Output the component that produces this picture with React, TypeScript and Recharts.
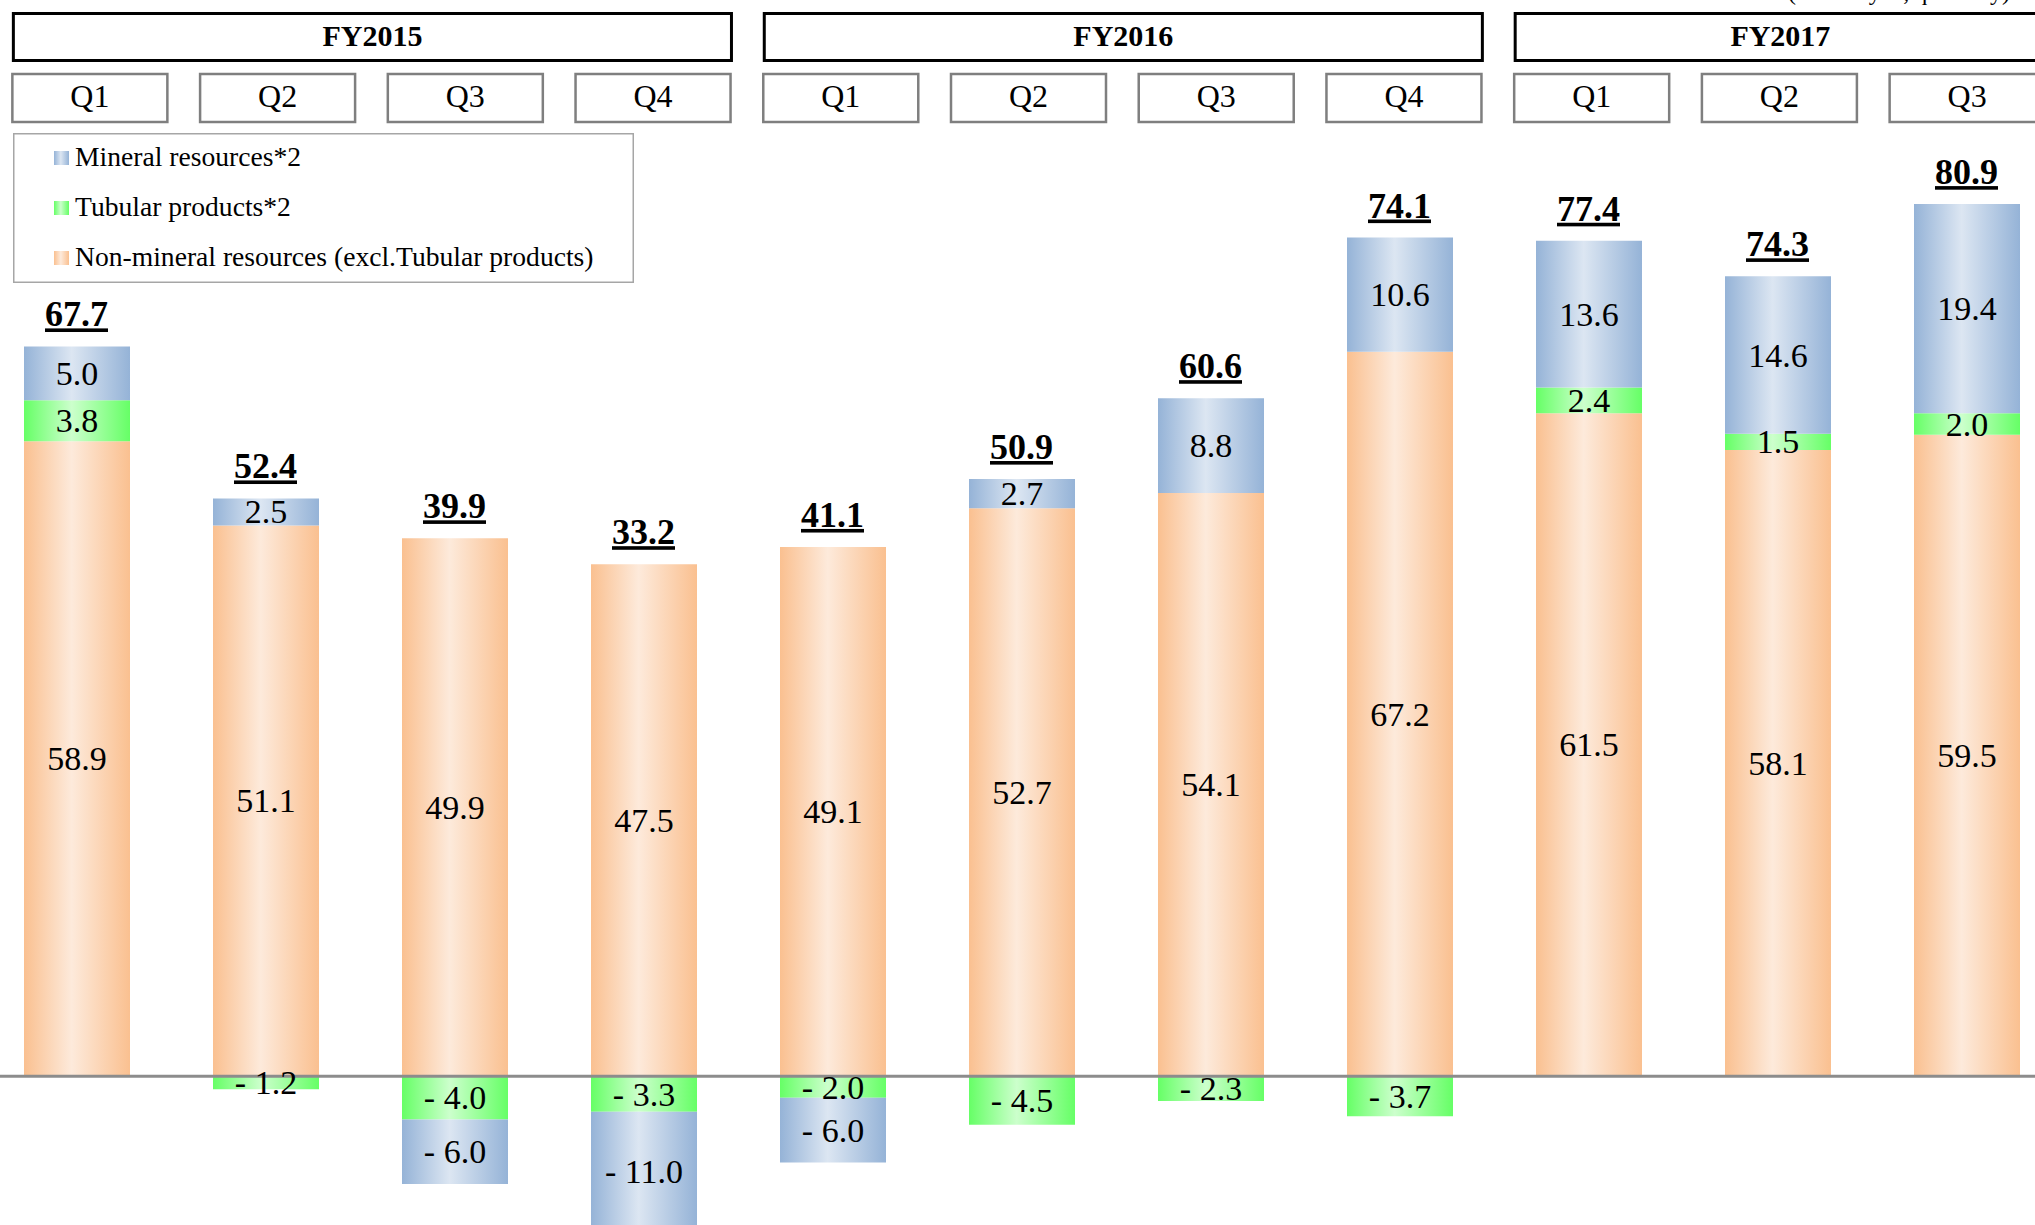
import { Bar, ComposedChart, LabelList, Legend, Line, ReferenceLine, XAxis, YAxis } from "recharts";

// quarterly figures
const quarters = ["Q1", "Q2", "Q3", "Q4", "Q1", "Q2", "Q3", "Q4", "Q1", "Q2", "Q3"];
const fiscalYears = ["FY2015", "FY2016", "FY2017"];
const nonMineral = [58.9, 51.1, 49.9, 47.5, 49.1, 52.7, 54.1, 67.2, 61.5, 58.1, 59.5];
const tubular = [3.8, -1.2, -4.0, -3.3, -2.0, -4.5, -2.3, -3.7, 2.4, 1.5, 2.0];
const mineral = [5.0, 2.5, -6.0, -11.0, -6.0, 2.7, 8.8, 10.6, 13.6, 14.6, 19.4];
const totals = [67.7, 52.4, 39.9, 33.2, 41.1, 50.9, 60.6, 74.1, 77.4, 74.3, 80.9];

const legendItems = [
  { label: "Mineral resources*2", fill: "url(#gradBlue)" },
  { label: "Tubular products*2", fill: "url(#gradGreen)" },
  { label: "Non-mineral resources (excl.Tubular products)", fill: "url(#gradOrange)" },
];

const data = quarters.map((q, i) => ({
  quarter: q,
  nonMineral: nonMineral[i],
  tubular: tubular[i],
  mineral: mineral[i],
  total: totals[i],
  // top of the positive stack, used to place the total label
  posTop: [nonMineral[i], tubular[i], mineral[i]].filter((v) => v > 0).reduce((a, b) => a + b, 0),
}));

const FONT = '"Liberation Serif", "Times New Roman", serif';
const STEP = 187.7; // spacing of the header boxes

const fmt = (v: number) => (v < 0 ? `- ${Math.abs(v).toFixed(1)}` : v.toFixed(1));

function SegmentLabel(props: any) {
  const { x, y, width, height, value } = props;
  if (value == null || value === 0) return null;
  const cx = Number(x) + Number(width) / 2;
  const cy = Number(y) + Number(height) / 2;
  return (
    <text x={cx} y={cy} dy={11.5} textAnchor="middle" fontSize={34} fill="#000" fontFamily={FONT}>
      {fmt(Number(value))}
    </text>
  );
}

function TotalLabel(props: any) {
  const { x, y, value } = props;
  return (
    <text
      x={x}
      y={Number(y) - 20}
      textAnchor="middle"
      fontSize={36}
      fontWeight="bold"
      fill="#000"
      fontFamily={FONT}
      textDecoration="underline"
    >
      {Number(value).toFixed(1)}
    </text>
  );
}

function HeaderTick(props: any) {
  const { x, payload } = props;
  const i = payload.index;
  const fy = Math.floor(i / 4);
  const count = Math.min(4, quarters.length - fy * 4);
  const fyWidth = (count - 1) * STEP + 155;
  return (
    <g>
      {i % 4 === 0 && (
        <g>
          <rect x={x - 76.5} y={13.5} width={fyWidth} height={47} fill="#fff" stroke="#000" strokeWidth={3} />
          <text
            x={x - 76.5 + fyWidth / 2}
            y={46}
            textAnchor="middle"
            fontSize={30}
            fontWeight="bold"
            fill="#000"
            fontFamily={FONT}
          >
            {fiscalYears[fy]}
          </text>
        </g>
      )}
      <rect x={x - 77.5} y={74} width={155} height={48} fill="#fff" stroke="#7f7f7f" strokeWidth={2.5} />
      <text x={x} y={107} textAnchor="middle" fontSize={32} fill="#000" fontFamily={FONT}>
        {payload.value}
      </text>
    </g>
  );
}

function LegendBox() {
  return (
    <svg width={621} height={150} style={{ display: "block" }}>
      <rect x={0.75} y={0.75} width={619.5} height={148.5} fill="#fff" stroke="#a6a6a6" strokeWidth={1.5} />
      {legendItems.map((item, i) => (
        <g key={item.label}>
          <rect x={41} y={18 + i * 50} width={15} height={14} fill={item.fill} />
          <text x={62} y={33 + i * 50} fontSize={27.6} fill="#000" fontFamily={FONT}>
            {item.label}
          </text>
        </g>
      ))}
    </svg>
  );
}

function Grad({ id, edge, mid }: { id: string; edge: string; mid: string }) {
  return (
    <linearGradient id={id} x1="0" y1="0" x2="1" y2="0">
      <stop offset="0%" stopColor={edge} />
      <stop offset="45%" stopColor={mid} />
      <stop offset="100%" stopColor={edge} />
    </linearGradient>
  );
}

export default function App() {
  return (
    <div
      style={{
        position: "fixed",
        left: 0,
        top: 0,
        width: 2035,
        height: 1225,
        overflow: "hidden",
        background: "#fff",
        fontFamily: FONT,
      }}
    >
      <div style={{ position: "absolute", left: -18, top: 0 }}>
        <ComposedChart
          width={2079}
          height={1238}
          data={data}
          stackOffset="sign"
          margin={{ top: 0, right: 0, bottom: 0, left: 0 }}
        >
          <defs>
            <Grad id="gradOrange" edge="#fac090" mid="#fdeadb" />
            <Grad id="gradGreen" edge="#66ff66" mid="#ccffcc" />
            <Grad id="gradBlue" edge="#95b3d7" mid="#dce6f2" />
          </defs>

          <XAxis xAxisId="main" dataKey="quarter" hide />
          <XAxis
            xAxisId="top"
            dataKey="quarter"
            orientation="top"
            height={106}
            padding={{ left: 14, right: 0 }}
            axisLine={false}
            tickLine={false}
            tickSize={0}
            tickMargin={0}
            interval={0}
            tick={(p: any) => <HeaderTick {...p} />}
          />
          <YAxis hide domain={[-15, 90]} allowDataOverflow />

          <Legend
            layout="vertical"
            verticalAlign="middle"
            align="center"
            wrapperStyle={{ left: 31, top: 133, width: 621, height: 150 }}
            content={() => <LegendBox />}
          />

          <Bar xAxisId="main" dataKey="nonMineral" stackId="a" barSize={106} fill="url(#gradOrange)" isAnimationActive={false}>
            <LabelList dataKey="nonMineral" content={SegmentLabel} />
          </Bar>
          <Bar xAxisId="main" dataKey="tubular" stackId="a" barSize={106} fill="url(#gradGreen)" isAnimationActive={false}>
            <LabelList dataKey="tubular" content={SegmentLabel} />
          </Bar>
          <Bar xAxisId="main" dataKey="mineral" stackId="a" barSize={106} fill="url(#gradBlue)" isAnimationActive={false}>
            <LabelList dataKey="mineral" content={SegmentLabel} />
          </Bar>

          <ReferenceLine xAxisId="main" y={0} stroke="#8c8c8c" strokeWidth={3} />

          <Line
            xAxisId="main"
            dataKey="posTop"
            stroke="none"
            dot={false}
            activeDot={false}
            legendType="none"
            isAnimationActive={false}
          >
            <LabelList dataKey="total" content={TotalLabel} />
          </Line>
        </ComposedChart>
      </div>
      <svg style={{ position: "absolute", left: 0, top: 0 }} width={2035} height={10}>
        <text x={1788} y={0} fontSize={24} fill="#000" fontFamily={FONT}>
          (Billion yen, quarterly)
        </text>
      </svg>
    </div>
  );
}
